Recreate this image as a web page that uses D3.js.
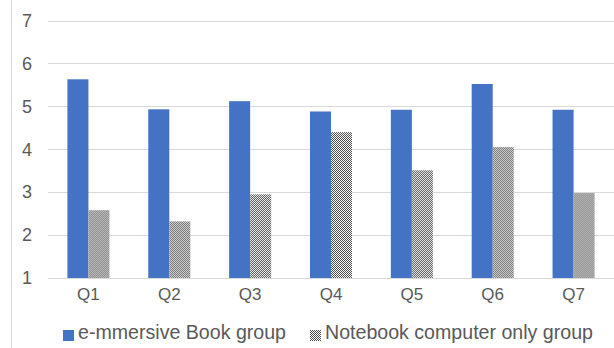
<!DOCTYPE html>
<html>
<head>
<meta charset="utf-8">
<script src="https://cdn.jsdelivr.net/npm/d3@7"></script>
<style>
  body { margin: 0; background: #fff; }
  text { font-family: "Liberation Sans", Arial, sans-serif; fill: #595959; }
</style>
</head>
<body>
<div id="chart"></div>
<script>
// data
var questions = ["Q1", "Q2", "Q3", "Q4", "Q5", "Q6", "Q7"];
var bookGroup = [5.63, 4.93, 5.12, 4.88, 4.92, 5.52, 4.92];
var notebookGroup = [2.58, 2.32, 2.95, 4.40, 3.51, 4.05, 2.98];
var seriesNames = ["e-mmersive Book group", "Notebook computer only group"];
var yTicks = [1, 2, 3, 4, 5, 6, 7];

var width = 614, height = 348;

var svg = d3.select("#chart").append("svg")
    .attr("width", width)
    .attr("height", height);

// dotted fill like the excel "50%" pattern
var defs = svg.append("defs");
var pat = defs.append("pattern")
    .attr("id", "dots")
    .attr("patternUnits", "userSpaceOnUse")
    .attr("width", 2).attr("height", 2);
pat.append("rect").attr("width", 2).attr("height", 2).attr("fill", "#fff");
pat.append("rect").attr("width", 1).attr("height", 1).attr("fill", "#4a4a4a");
pat.append("rect").attr("x", 1).attr("y", 1).attr("width", 1).attr("height", 1).attr("fill", "#4a4a4a");

var fills = ["#4472C4", "url(#dots)"];

// left border line of the cropped chart
svg.append("line")
    .attr("x1", 11.5).attr("x2", 11.5)
    .attr("y1", 0).attr("y2", height)
    .attr("stroke", "#d9d9d9");

var x = d3.scaleBand().domain(questions).range([48, 614])
    .paddingInner(0.48).paddingOuter(0.24);
var x1 = d3.scaleBand().domain([0, 1]).range([0, x.bandwidth()]);
var y = d3.scaleLinear().domain([1, 7]).range([278, 20.5]);

// grid lines
svg.append("g").selectAll("line")
    .data(yTicks)
    .enter().append("line")
    .attr("x1", 48).attr("x2", 614)
    .attr("y1", function(d) { return Math.round(y(d)) + 0.5; })
    .attr("y2", function(d) { return Math.round(y(d)) + 0.5; })
    .attr("stroke", "#d9d9d9")
    .attr("stroke-width", 1);

// y labels
svg.append("g").selectAll("text")
    .data(yTicks)
    .enter().append("text")
    .attr("x", 32)
    .attr("y", function(d) { return y(d); })
    .attr("dy", "0.35em")
    .attr("text-anchor", "end")
    .style("font-size", "18px")
    .text(function(d) { return d; });

// bars
var rows = questions.map(function(q, i) {
  return { q: q, vals: [bookGroup[i], notebookGroup[i]] };
});

var groups = svg.append("g").selectAll("g")
    .data(rows)
    .enter().append("g")
    .attr("transform", function(d) { return "translate(" + x(d.q) + ",0)"; });

groups.selectAll("rect")
    .data(function(d) { return d.vals.map(function(v, k) { return { k: k, v: v }; }); })
    .enter().append("rect")
    .attr("x", function(d) { return x1(d.k); })
    .attr("y", function(d) { return y(d.v); })
    .attr("width", x1.bandwidth())
    .attr("height", function(d) { return y(1) - y(d.v); })
    .attr("fill", function(d) { return fills[d.k]; });

// x labels
svg.append("g").selectAll("text")
    .data(questions)
    .enter().append("text")
    .attr("x", function(d) { return x(d) + x.bandwidth() / 2; })
    .attr("y", 300)
    .attr("text-anchor", "middle")
    .style("font-size", "17px")
    .text(function(d) { return d; });

// legend
var legendX = [63, 310];
var legend = svg.append("g").selectAll("g")
    .data(seriesNames)
    .enter().append("g")
    .attr("transform", function(d, i) { return "translate(" + legendX[i] + ",0)"; });

legend.append("rect")
    .attr("x", 0).attr("y", 330)
    .attr("width", 11).attr("height", 11)
    .attr("fill", function(d, i) { return fills[i]; });

legend.append("text")
    .attr("x", 15)
    .attr("y", 339)
    .style("font-size", "19.6px")
    .text(function(d) { return d; });
</script>
</body>
</html>
